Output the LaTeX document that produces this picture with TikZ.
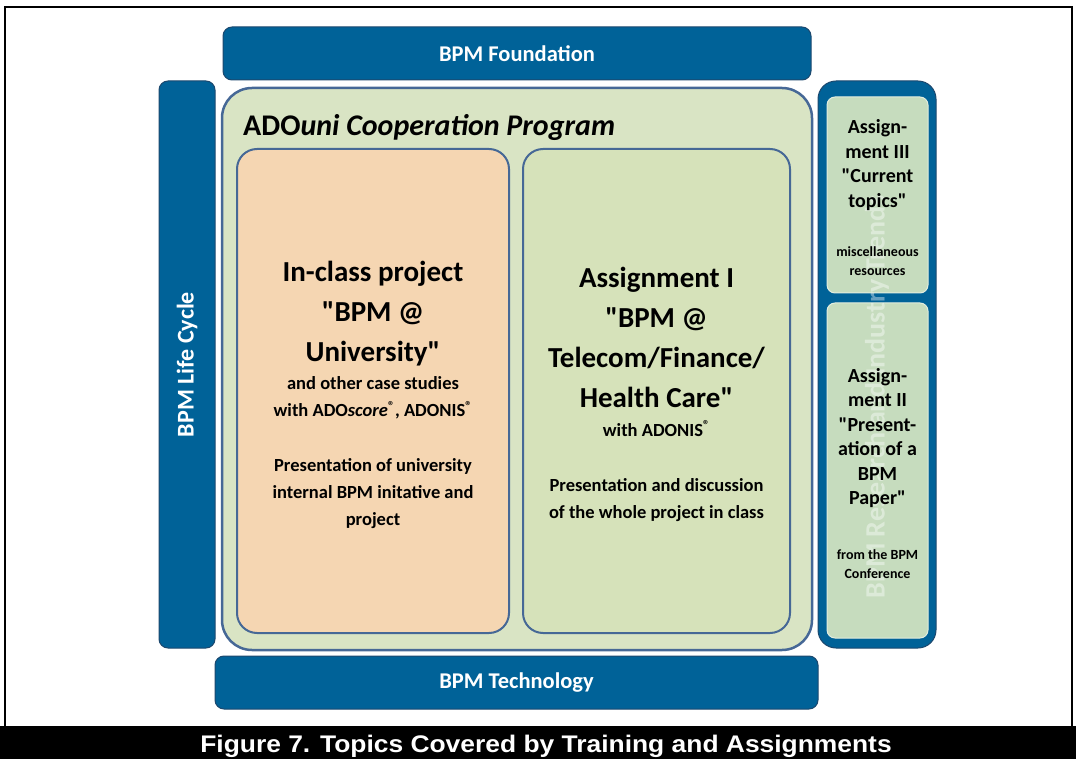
\documentclass[tikz,border=0pt]{standalone}
\usepackage{fontspec}
\setmainfont{Carlito}[Ligatures=TeXOff]
\newfontfamily\capfont{Liberation Sans}[FakeStretch=1.1]
\usepackage{tikz}
\usetikzlibrary{positioning}

\definecolor{bpmblue}{RGB}{0,98,152}
\definecolor{bpmedge}{RGB}{28,72,110}
\definecolor{progfill}{RGB}{217,228,196}
\definecolor{progedge}{RGB}{70,104,150}
\definecolor{peach}{RGB}{245,214,178}
\definecolor{lightgreen}{RGB}{214,226,186}
\definecolor{sagegreen}{RGB}{198,220,190}

\begin{document}
\begin{tikzpicture}[x=1pt, y=-1pt]
        \tikzstyle{bluebox} = [rectangle, rounded corners=9pt, draw=bpmedge, line width=1pt, fill=bpmblue, text=white, font=\fontsize{22.5}{26}\selectfont\bfseries]
        \tikzstyle{progbox} = [rectangle, rounded corners=30pt, draw=progedge, line width=2.5pt, fill=progfill]
        \tikzstyle{topicbox} = [rectangle, rounded corners=20pt, draw=progedge, line width=2pt]
        \tikzstyle{assignbox} = [rectangle, rounded corners=8pt, draw=white!50!sagegreen, line width=1pt, fill=sagegreen]
        \tikzstyle{headtext} = [align=center, font=\fontsize{29}{40}\selectfont\bfseries]
        \tikzstyle{smalltext} = [align=center, font=\fontsize{18.5}{27}\selectfont\bfseries]
        \tikzstyle{sidetext} = [align=center, font=\fontsize{20}{24.5}\selectfont\bfseries]
        \tikzstyle{tinytext} = [align=center, font=\fontsize{14}{19}\selectfont\bfseries]

        \useasboundingbox (0,0) rectangle (1076,759);
        \draw [line width=2pt] (4.5,7) rectangle (1071.5,735);
        \fill [black] (0,726) rectangle (1076,759);
        \node (caption) [anchor=base, text=white, font=\capfont\fontsize{24}{28}\selectfont\bfseries] at (546,752) {Figure 7. Topics Covered by Training and Assignments};

        % outer frame of topics
        \node (found) [bluebox, minimum width=588pt, minimum height=53pt] at (517,53.5) {BPM Foundation};
        \node (tech) [bluebox, minimum width=603pt, minimum height=53pt] at (516.5,682.5) {BPM Technology};
        \node (cycle) [bluebox, minimum width=56pt, minimum height=567pt] at (187,364.5) {};
        \node (cyclelabel) [rotate=90, text=white, font=\fontsize{24}{28}\selectfont\bfseries] at (cycle.center) {BPM Life Cycle};

        % research column on the right
        \node (trends) [bluebox, minimum width=118pt, minimum height=567pt, rounded corners=18pt] at (877,364.5) {};
        \node (assignIII) [assignbox, minimum width=101pt, minimum height=196pt] at (877.5,195) {};
        \node (assignII) [assignbox, minimum width=101pt, minimum height=335pt] at (877.5,470.5) {};
        \node (trendslabel) [rotate=90, text=white, text opacity=0.4, font=\fontsize{28}{32}\selectfont\bfseries] at (877,397) {BPM Research and Industry Trends};
        \node (assignIIIhead) [sidetext] at (877.5,165) {Assign-\\ment III\\"Current\\topics"};
        \node (assignIIInote) [tinytext] at (877.5,261) {miscellaneous\\resources};
        \node (assignIIhead) [sidetext] at (877.5,438) {Assign-\\ment II\\"Present-\\ation of a\\BPM\\Paper"};
        \node (assignIInote) [tinytext] at (877.5,564) {from the BPM\\Conference};

        % cooperation program
        \node (prog) [progbox, minimum width=590pt, minimum height=562pt] at (517,369) {};
        \node (progtitle) [anchor=base west, inner sep=0pt, font=\fontsize{30}{34}\selectfont\bfseries] at (243,136) {ADO\textit{uni Cooperation Program}};
        \node (inclass) [topicbox, fill=peach, minimum width=272pt, minimum height=484pt] at (373,391) {};
        \node (assignI) [topicbox, fill=lightgreen, minimum width=267pt, minimum height=484pt] at (656.5,391) {};

        \node (inclasshead) [headtext] at (373,314) {In-class project\\"BPM @\\University"};
        \node (inclasstools) [smalltext] at (373,398) {and other case studies\\with ADO\textit{score}\textsuperscript{\textregistered}, ADONIS\textsuperscript{\textregistered}};
        \node (inclassnote) [smalltext] at (373,494) {Presentation of university\\internal BPM initative and\\project};

        \node (assignIhead) [headtext] at (656.5,337) {Assignment I\\"BPM @\\Telecom/Finance/\\Health Care"};
        \node (assignItool) [smalltext, anchor=base] at (656.5,436) {with ADONIS\textsuperscript{\textregistered}};
        \node (assignInote) [smalltext] at (656.5,500) {Presentation and discussion\\of the whole project in class};
\end{tikzpicture}
\end{document}
